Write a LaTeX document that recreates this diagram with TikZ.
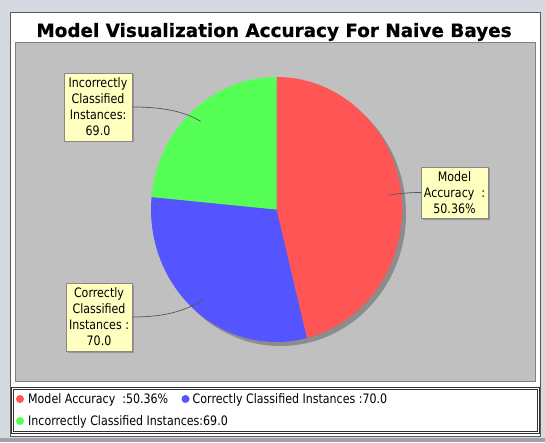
\documentclass[tikz,border=0pt]{standalone}
\usepackage{fontspec}
\setmainfont{DejaVu Sans}
\newfontfamily\lblfont[FakeStretch=0.85]{DejaVu Sans}
\newfontfamily\titlefont[FakeBold=0.6]{DejaVu Sans}
\usetikzlibrary{shadows}
\definecolor{bgc}{HTML}{D5D9E0}
\definecolor{bandc}{HTML}{9EA2A8}
\definecolor{panelborder}{HTML}{5A5A5A}
\definecolor{plotc}{HTML}{C0C0C0}
\definecolor{plotborder}{HTML}{808080}
\definecolor{redc}{HTML}{FF5555}
\definecolor{bluec}{HTML}{5555FF}
\definecolor{greenc}{HTML}{55FF55}
\definecolor{shadowc}{HTML}{8C8C8C}
\definecolor{lblfill}{HTML}{FFFFC0}
\definecolor{lblborder}{HTML}{888888}
\definecolor{linkc}{HTML}{555555}
\definecolor{legborder}{HTML}{303030}
\begin{document}
\begin{tikzpicture}[x=1pt,y=1pt,
  lbl/.style={draw=lblborder, fill=lblfill, rectangle, inner sep=0pt, align=center,
    font=\lblfont\fontsize{13}{16}\selectfont,
    drop shadow={shadow xshift=1.5pt, shadow yshift=-1.5pt, fill=black!45, opacity=0.8}},
  leader/.style={draw=linkc, line width=0.7pt},
  legtext/.style={anchor=base west, inner sep=0pt, font=\lblfont\fontsize{13}{16}\selectfont},
  dot/.style={circle, inner sep=0pt, minimum size=8pt}]
\useasboundingbox (0,0) rectangle (545,442);
% background
\fill[bgc] (0,0) rectangle (545,442);
\fill[bandc] (0,0) rectangle (545,4);
% panel
\filldraw[fill=white, draw=panelborder, line width=0.8pt] (10,6) rectangle (540,430);
% title
\node[anchor=base, inner sep=0pt, font=\titlefont\bfseries\fontsize{18.4}{22}\selectfont] (title) at (274,405) {Model Visualization Accuracy For Naive Bayes};
% plot area
\filldraw[fill=plotc, draw=plotborder, line width=0.8pt] (15,61) rectangle (535,400);
% pie shadow
\fill[shadowc] (280.5,228.5) ellipse [x radius=125.5, y radius=132.5];
% slices
\coordinate (C) at (276.5,232.5);
\fill[redc] (C) -- ++(90:125.5 and 132.5) arc[start angle=90, end angle=-76, x radius=125.5, y radius=132.5] -- cycle;
\fill[bluec] (C) -- ++(-76:125.5 and 132.5) arc[start angle=-76, end angle=-185.4, x radius=125.5, y radius=132.5] -- cycle;
\fill[greenc] (C) -- ++(174.6:125.5 and 132.5) arc[start angle=174.6, end angle=90, x radius=125.5, y radius=132.5] -- cycle;
% anchors
\coordinate (gA) at (200.5,320.7);
\coordinate (rA) at (388.6,247.0);
\coordinate (bA) at (202.8,142.1);
% labels
\node[lbl, minimum width=68pt, minimum height=68pt] (glab) at (98,335) {Incorrectly\\Classified\\Instances:\\69.0};
\node[lbl, minimum width=67pt, minimum height=51pt] (rlab) at (454.5,249.5) {Model\\Accuracy\ \ :\\50.36\%};
\node[lbl, minimum width=66pt, minimum height=68pt] (blab) at (99,125) {Correctly\\Classified\\Instances :\\70.0};
% leaders
\draw[leader] (glab.east) .. controls (165,335) and (185,330) .. (gA);
\draw[leader] (rlab.west) .. controls (405,249.5) and (398,248) .. (rA);
\draw[leader] (blab.east) .. controls (165,125) and (185,131) .. (bA);
% legend
\draw[legborder, line width=0.7pt, fill=white] (11,9) rectangle (539,55);
\draw[legborder, line width=0.7pt] (13,11) rectangle (537,53);
\node[dot, fill=redc] (d1) at (20,43) {};
\node[legtext] (t1) at (28,38.5) {Model Accuracy\ \ :50.36\%};
\node[dot, fill=bluec] (d2) at (185.5,43) {};
\node[legtext] (t2) at (192.5,38.5) {Correctly Classified Instances :70.0};
\node[dot, fill=greenc] (d3) at (20,21) {};
\node[legtext] (t3) at (28,16.5) {Incorrectly Classified Instances:69.0};
\end{tikzpicture}
\end{document}
